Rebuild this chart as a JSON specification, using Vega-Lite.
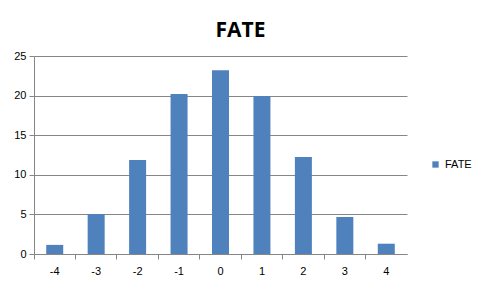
{
  "$schema": "https://vega.github.io/schema/vega-lite/v6.json",
  "width": 373,
  "height": 198,
  "autosize": "none",
  "padding": {"left": 34, "top": 56, "right": 74, "bottom": 35},
  "background": "white",
  "title": {
    "text": "FATE",
    "font": "Open Sans",
    "fontSize": 21,
    "fontWeight": "bold",
    "color": "black",
    "anchor": "middle",
    "dx": 20,
    "baseline": "alphabetic",
    "offset": 21,
    "dy": 29
  },
  "data": {
    "values": [
      {"x": "-4", "v": 1.15, "s": "FATE"},
      {"x": "-3", "v": 5.05, "s": "FATE"},
      {"x": "-2", "v": 11.87, "s": "FATE"},
      {"x": "-1", "v": 20.2, "s": "FATE"},
      {"x": "0", "v": 23.2, "s": "FATE"},
      {"x": "1", "v": 19.95, "s": "FATE"},
      {"x": "2", "v": 12.25, "s": "FATE"},
      {"x": "3", "v": 4.67, "s": "FATE"},
      {"x": "4", "v": 1.3, "s": "FATE"}
    ]
  },
  "mark": {"type": "bar", "width": 17},
  "encoding": {
    "x": {
      "field": "x",
      "type": "ordinal",
      "sort": null,
      "scale": {"paddingInner": 0, "paddingOuter": 0},
      "axis": {
        "title": null,
        "labelAngle": 0,
        "bandPosition": 0,
        "labelDx": 20.7,
        "labelFont": "Liberation Sans",
        "labelFontSize": 11,
        "labelColor": "#000000",
        "labelPadding": 6,
        "domainColor": "#868686",
        "tickColor": "#868686",
        "tickSize": 5,
        "grid": false
      }
    },
    "y": {
      "field": "v",
      "type": "quantitative",
      "scale": {"domain": [0, 25], "nice": false, "zero": true},
      "axis": {
        "title": null,
        "values": [0, 5, 10, 15, 20, 25],
        "labelFont": "Liberation Sans",
        "labelFontSize": 11,
        "labelColor": "#000000",
        "labelPadding": 3,
        "domainColor": "#868686",
        "tickColor": "#868686",
        "tickSize": 5,
        "grid": true,
        "gridColor": "#868686",
        "gridOpacity": 1
      }
    },
    "color": {
      "field": "s",
      "type": "nominal",
      "scale": {"range": ["#4F81BD"]},
      "legend": {
        "title": null,
        "orient": "none",
        "legendX": 396,
        "legendY": 103,
        "symbolType": "square",
        "symbolSize": 40,
        "symbolOpacity": 1,
        "labelFont": "Liberation Sans",
        "labelFontSize": 11,
        "labelColor": "#000000",
        "padding": 0
      }
    }
  },
  "config": {"view": {"stroke": null}}
}
